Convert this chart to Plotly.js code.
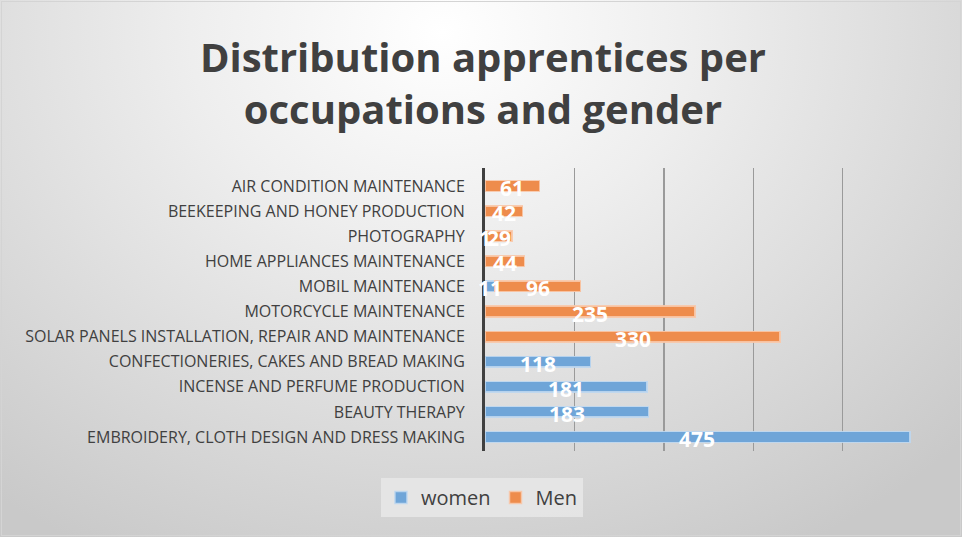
<!DOCTYPE html>
<html>
<head>
<meta charset="utf-8">
<script src="https://cdn.plot.ly/plotly-3.0.1.min.js"></script>
<style>
html,body{margin:0;padding:0;width:962px;height:537px;overflow:hidden;}
body{background:radial-gradient(ellipse 75% 110% at 46% 6%, #ffffff 0%, #eeeeee 35%, #dadada 70%, #c9c9c9 100%);}
#frame{position:absolute;left:1px;top:1px;width:958px;height:533px;border:1px solid #d4d4d4;}
#chart{position:absolute;left:0;top:0;width:962px;height:537px;}
</style>
</head>
<body>
<div id="frame"></div>
<div id="chart"></div>
<script>
const categories = [
  "AIR CONDITION MAINTENANCE",
  "BEEKEEPING AND HONEY PRODUCTION",
  "PHOTOGRAPHY",
  "HOME APPLIANCES MAINTENANCE",
  "MOBIL MAINTENANCE",
  "MOTORCYCLE MAINTENANCE",
  "SOLAR PANELS INSTALLATION, REPAIR AND MAINTENANCE",
  "CONFECTIONERIES, CAKES AND BREAD MAKING",
  "INCENSE AND PERFUME PRODUCTION",
  "BEAUTY THERAPY",
  "EMBROIDERY, CLOTH DESIGN AND DRESS MAKING"
];
const women = [null, null, 1, null, 11, null, null, 118, 181, 183, 475];
const men   = [61, 42, 29, 44, 96, 235, 330, null, null, null, null];
const xTicks = [0, 100, 200, 300, 400, 500];

const labelFont = {family: "Open Sans, sans-serif", size: 21, color: "#ffffff", weight: "bold"};

const traces = [
  {
    type: "bar", orientation: "h", name: "women",
    y: categories, x: women,
    marker: {color: "#6fa5d8", line: {color: "rgba(190,215,240,0.9)", width: 1.5}},
    hoverinfo: "x+y+name"
  },
  {
    type: "bar", orientation: "h", name: "Men",
    y: categories, x: men,
    marker: {color: "#ee8c4c", line: {color: "rgba(248,200,170,0.9)", width: 1.5}},
    hoverinfo: "x+y+name"
  }
];

// data labels centred in each segment, positioned through the axes
const annotations = [];
categories.forEach((c, i) => {
  const w = women[i] || 0;
  if (women[i] != null) {
    annotations.push({x: w / 2, y: c, xref: "x", yref: "y", text: String(women[i]),
      showarrow: false, font: labelFont, yshift: -2});
  }
  if (men[i] != null) {
    annotations.push({x: w + men[i] / 2, y: c, xref: "x", yref: "y", text: String(men[i]),
      showarrow: false, font: labelFont, yshift: -2});
  }
});

const layout = {
  width: 962, height: 537,
  paper_bgcolor: "rgba(0,0,0,0)",
  plot_bgcolor: "rgba(0,0,0,0)",
  margin: {l: 485, r: 29, t: 168, b: 86, pad: 0},
  barmode: "stack",
  bargap: 0.58,
  title: {
    text: "Distribution apprentices per<br>occupations and gender",
    font: {family: "Open Sans, sans-serif", size: 40, color: "#404040", weight: "bold"},
    x: 0.502, xanchor: "center", xref: "container",
    y: 0.866, yanchor: "middle", yref: "container"
  },
  xaxis: {
    range: [0, 501], tickvals: xTicks, showticklabels: false,
    showgrid: true, gridcolor: "#9a9a9a", gridwidth: 1.5,
    zeroline: false, showline: false, fixedrange: true
  },
  yaxis: {
    type: "category", autorange: "reversed",
    showline: true, linecolor: "#404040", linewidth: 3,
    ticks: "", ticklabelstandoff: 14,
    tickfont: {family: "Open Sans, sans-serif", size: 16, color: "#404040"},
    showgrid: false, zeroline: false, fixedrange: true
  },
  annotations: annotations,
  legend: {
    orientation: "h", xref: "container", x: 0.501, xanchor: "center",
    yref: "container", y: 0.11, yanchor: "top",
    bgcolor: "rgba(232,232,232,0.85)", borderwidth: 0,
    font: {family: "Open Sans, sans-serif", size: 20, color: "#404040"},
    itemwidth: 30, traceorder: "normal"
  },
  showlegend: true
};

Plotly.newPlot("chart", traces, layout, {displayModeBar: false, staticPlot: true});
</script>
</body>
</html>
